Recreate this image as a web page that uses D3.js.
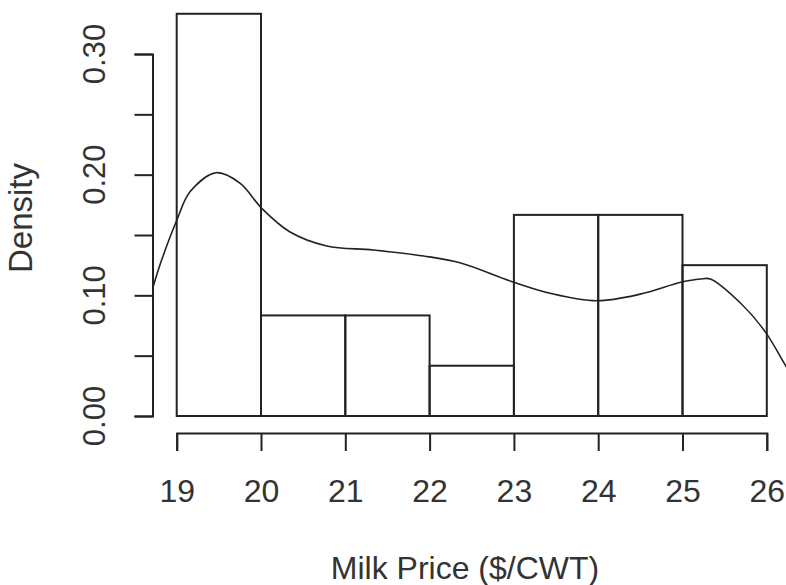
<!doctype html>
<meta charset=utf8>
<title>Milk price histogram</title>
<style>
  html, body { margin: 0; background: white; }
  svg { display: block; font-family: Arial, "Liberation Sans", sans-serif; }
  .bar { fill: none; stroke: #222; stroke-width: 2; }
  .axis line, .axis path { stroke: #222; stroke-width: 2; fill: none; }
  .dens { fill: none; stroke: #222; stroke-width: 1.6; }
  text { fill: #333; }
</style>
<svg width=786 height=585></svg>
<script src=https://d3js.org/d3.v7.min.js></script>
<script>
  // histogram bins (breaks) and counts
  var breaks = [19, 20, 21, 22, 23, 24, 25, 26];
  var counts = [8, 2, 2, 1, 4, 4, 3];
  var xTicks = [19, 20, 21, 22, 23, 24, 25, 26];
  var yTicks = [0, 0.05, 0.10, 0.15, 0.20, 0.25, 0.30];
  var yLabels = ['0.00', '0.10', '0.20', '0.30'];

  // kernel density curve
  var densX = [18.72, 18.82, 19.00, 19.16, 19.47, 19.75, 20.01, 20.34, 20.78, 21.33, 21.93, 22.36, 22.98, 23.43, 23.98, 24.50, 24.98, 25.21, 25.33, 25.69, 25.98, 26.23, 26.35];
  var densY = [0.107, 0.129, 0.162, 0.186, 0.2016, 0.193, 0.172, 0.1527, 0.1409, 0.1376, 0.1326, 0.127, 0.1113, 0.1017, 0.0955, 0.101, 0.1108, 0.1135, 0.1135, 0.0934, 0.0699, 0.041, 0.028];

  var n = d3.sum(counts);
  var svg = d3.select('svg');

  var x = d3.scaleLinear().domain([19, 26]).range([176.7, 766.8]);
  var y = d3.scaleLinear().domain([0, 0.30]).range([416, 54]);

  function dens(d, i) { return d / (n * (breaks[i + 1] - breaks[i])); }

  // bars
  svg.append('g')
    .selectAll('rect')
    .data(counts)
    .enter()
    .append('rect')
    .attr('class', 'bar')
    .attr('x', function(d, i) { return x(breaks[i]); })
    .attr('width', function(d, i) { return x(breaks[i + 1]) - x(breaks[i]); })
    .attr('y', function(d, i) { return y(dens(d, i)); })
    .attr('height', function(d, i) { return y(0) - y(dens(d, i)); });

  // density line clipped to the plot region
  svg.append('clipPath').attr('id', 'clip')
    .append('rect').attr('x', 152.5).attr('y', 0).attr('width', 700).attr('height', 432);

  var line = d3.line()
    .x(function(d, i) { return x(densX[i]); })
    .y(function(d) { return y(d); })
    .curve(d3.curveCatmullRom);

  svg.append('path')
    .attr('class', 'dens')
    .attr('clip-path', 'url(#clip)')
    .attr('d', line(densY));

  // x axis
  var xAxis = d3.axisBottom(x).tickValues(xTicks).tickSize(18).tickSizeOuter(18).tickFormat(d3.format('d'));
  var gx = svg.append('g').attr('class', 'axis').attr('transform', 'translate(0,433)').call(xAxis);
  gx.selectAll('text')
    .attr('y', 0).attr('dy', null)
    .attr('transform', 'translate(0,69)')
    .style('font-size', '32px');

  // y axis
  var yAxis = d3.axisLeft(y).tickValues(yTicks).tickSize(18).tickSizeOuter(18).tickFormat('');
  svg.append('g').attr('class', 'axis').attr('transform', 'translate(152.5,0)').call(yAxis);

  svg.append('g')
    .selectAll('text')
    .data(yLabels)
    .enter()
    .append('text')
    .attr('transform', function(d) { return 'translate(105,' + y(+d) + ') rotate(-90)'; })
    .attr('text-anchor', 'middle')
    .style('font-size', '31px')
    .text(function(d) { return d; });

  // titles
  svg.append('text')
    .attr('x', 465).attr('y', 579)
    .attr('text-anchor', 'middle')
    .style('font-size', '32px')
    .text('Milk Price ($/CWT)');

  svg.append('text')
    .attr('transform', 'translate(32,218) rotate(-90)')
    .attr('text-anchor', 'middle')
    .style('font-size', '33px')
    .text('Density');
</script>
